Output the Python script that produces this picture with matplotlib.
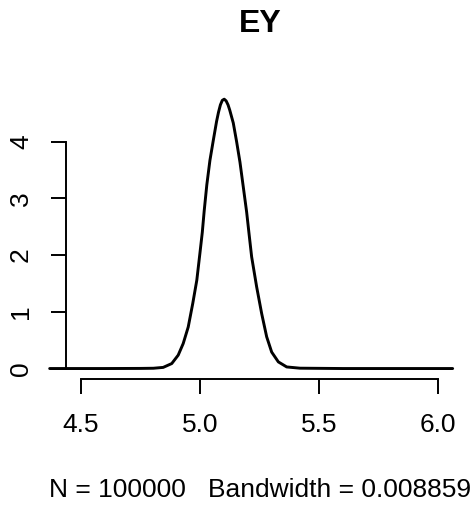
import matplotlib
matplotlib.use("Agg")
import matplotlib.pyplot as plt

plt.rcParams['font.family'] = ['Liberation Sans', 'DejaVu Sans']

# density curve of EY
ey_x = [4.37, 4.60, 4.75, 4.805, 4.846, 4.882, 4.909, 4.930, 4.951, 4.970,
        4.987, 5.000, 5.010, 5.018, 5.029, 5.042, 5.056, 5.063, 5.070, 5.078,
        5.086, 5.094, 5.102, 5.110, 5.118, 5.125, 5.140, 5.154, 5.168, 5.182,
        5.196, 5.206, 5.217, 5.238, 5.259, 5.280, 5.301, 5.329, 5.364, 5.420,
        5.60, 6.06]
ey_y = [0.0, 0.0, 0.002, 0.005, 0.02, 0.088, 0.236, 0.441, 0.732, 1.147,
        1.557, 2.03, 2.40, 2.78, 3.24, 3.67, 4.02, 4.19, 4.36, 4.52,
        4.65, 4.73, 4.75, 4.72, 4.65, 4.56, 4.33, 4.0, 3.64, 3.20,
        2.76, 2.38, 1.97, 1.44, 0.97, 0.56, 0.29, 0.117, 0.028, 0.006,
        0.0, 0.0]

x_ticks = [4.5, 5.0, 5.5, 6.0]
x_labels = ["4.5", "5.0", "5.5", "6.0"]
y_ticks = [0, 1, 2, 3, 4]

title = "EY"
subtitle = "N = 100000   Bandwidth = 0.008859"

fig = plt.figure(figsize=(4.74, 5.09), dpi=100)
ax = fig.add_axes([0.140, 0.2548, 0.815, 0.5715])

ax.plot(ey_x, ey_y, color="black", lw=2.1, clip_on=False,
        solid_joinstyle="round", solid_capstyle="round")

ax.set_xlim(4.44, 6.06)
ax.set_ylim(-0.19, 4.94)

for s in ["top", "right"]:
    ax.spines[s].set_visible(False)
ax.spines["left"].set_bounds(0, 4)
ax.spines["bottom"].set_bounds(4.5, 6.0)
ax.spines["left"].set_linewidth(1.4)
ax.spines["bottom"].set_linewidth(1.4)

ax.set_xticks(x_ticks)
ax.set_xticklabels(x_labels)
ax.set_yticks(y_ticks)
ax.set_yticklabels([str(v) for v in y_ticks], rotation=90, va="center")
ax.tick_params(axis="both", direction="out", length=11, width=1.4,
               labelsize=19, pad=13)

fig.text(0.548, 0.953, title, ha="center", va="center",
         fontsize=23, fontweight="bold")
fig.text(0.548, 0.037, subtitle, ha="center", va="center", fontsize=19)

fig.savefig("out.png", dpi=100)
